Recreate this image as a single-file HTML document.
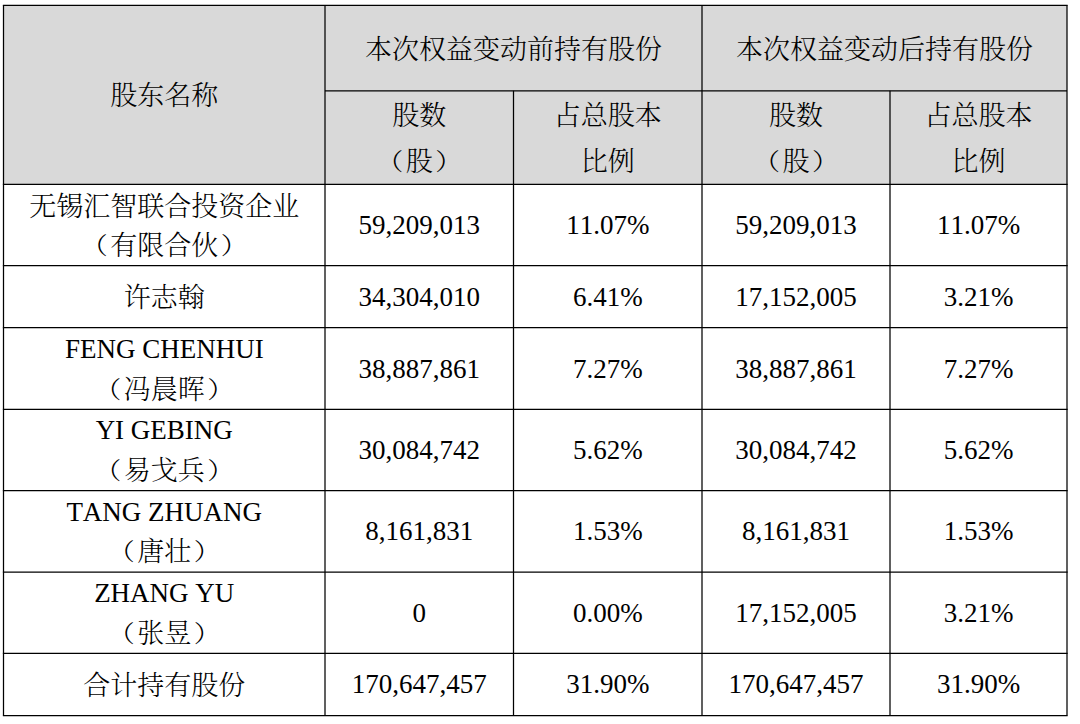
<!DOCTYPE html>
<html lang="zh-CN"><head><meta charset="utf-8"><title>股东持股变动表</title>
<style>
html,body{margin:0;padding:0;background:#fff;}
body{width:1080px;height:724px;position:relative;overflow:hidden;}
svg{position:absolute;left:0;top:0;}
.t{position:absolute;height:40px;line-height:40px;text-align:center;white-space:nowrap;
font-family:"Liberation Serif","Noto Serif CJK SC",serif;text-spacing-trim:space-all;font-kerning:none;font-size:27px;color:#000;}
.c{font-weight:300;}
.lp{position:relative;left:-2.5px;display:inline-block;transform:scaleY(0.88);}
.rp{position:relative;left:2.5px;display:inline-block;transform:scaleY(0.88);}
</style></head><body>
<svg width="1080" height="724" viewBox="0 0 1080 724"><rect x="3.5" y="5.3" width="1063.5" height="179.1" fill="#d9d9d9"/><g stroke="#000" stroke-width="1.25"><line x1="2.875" y1="5.3" x2="1067.625" y2="5.3"/><line x1="2.875" y1="184.4" x2="1067.625" y2="184.4"/><line x1="2.875" y1="265.5" x2="1067.625" y2="265.5"/><line x1="2.875" y1="327.7" x2="1067.625" y2="327.7"/><line x1="2.875" y1="409.4" x2="1067.625" y2="409.4"/><line x1="2.875" y1="490.5" x2="1067.625" y2="490.5"/><line x1="2.875" y1="572.0" x2="1067.625" y2="572.0"/><line x1="2.875" y1="653.4" x2="1067.625" y2="653.4"/><line x1="2.875" y1="715.5" x2="1067.625" y2="715.5"/><line x1="325" y1="90.8" x2="1067" y2="90.8"/><line x1="3.5" y1="5.3" x2="3.5" y2="715.5"/><line x1="325" y1="5.3" x2="325" y2="715.5"/><line x1="513.5" y1="90.8" x2="513.5" y2="715.5"/><line x1="702" y1="5.3" x2="702" y2="715.5"/><line x1="890" y1="90.8" x2="890" y2="715.5"/><line x1="1067" y1="5.3" x2="1067" y2="715.5"/></g></svg>
<div class="t c" style="left:3.50px;width:321.50px;top:75.70px">股东名称</div>
<div class="t c" style="left:325.00px;width:377.00px;top:30.00px">本次权益变动前持有股份</div>
<div class="t c" style="left:702.00px;width:365.00px;top:30.00px">本次权益变动后持有股份</div>
<div class="t c" style="left:325.00px;width:188.50px;top:96.20px">股数</div>
<div class="t c" style="left:325.00px;width:188.50px;top:142.20px"><span class="lp">（</span>股<span class="rp">）</span></div>
<div class="t c" style="left:702.00px;width:188.00px;top:96.20px">股数</div>
<div class="t c" style="left:702.00px;width:188.00px;top:142.20px"><span class="lp">（</span>股<span class="rp">）</span></div>
<div class="t c" style="left:513.50px;width:188.50px;top:96.20px">占总股本</div>
<div class="t c" style="left:513.50px;width:188.50px;top:142.20px">比例</div>
<div class="t c" style="left:890.00px;width:177.00px;top:96.20px">占总股本</div>
<div class="t c" style="left:890.00px;width:177.00px;top:142.20px">比例</div>
<div class="t c" style="left:3.50px;width:321.50px;top:187.15px">无锡汇智联合投资企业</div>
<div class="t c" style="left:3.50px;width:321.50px;top:226.15px"><span class="lp">（</span>有限合伙<span class="rp">）</span></div>
<div class="t" style="left:325.00px;width:188.50px;top:204.95px">59,209,013</div>
<div class="t" style="left:513.50px;width:188.50px;top:204.95px">11.07%</div>
<div class="t" style="left:702.00px;width:188.00px;top:204.95px">59,209,013</div>
<div class="t" style="left:890.00px;width:177.00px;top:204.95px">11.07%</div>
<div class="t c" style="left:3.50px;width:321.50px;top:278.30px">许志翰</div>
<div class="t" style="left:325.00px;width:188.50px;top:276.60px">34,304,010</div>
<div class="t" style="left:513.50px;width:188.50px;top:276.60px">6.41%</div>
<div class="t" style="left:702.00px;width:188.00px;top:276.60px">17,152,005</div>
<div class="t" style="left:890.00px;width:177.00px;top:276.60px">3.21%</div>
<div class="t" style="left:3.50px;width:321.50px;top:329.05px">FENG CHENHUI</div>
<div class="t c" style="left:3.50px;width:321.50px;top:369.75px"><span class="lp">（</span>冯晨晖<span class="rp">）</span></div>
<div class="t" style="left:325.00px;width:188.50px;top:348.55px">38,887,861</div>
<div class="t" style="left:513.50px;width:188.50px;top:348.55px">7.27%</div>
<div class="t" style="left:702.00px;width:188.00px;top:348.55px">38,887,861</div>
<div class="t" style="left:890.00px;width:177.00px;top:348.55px">7.27%</div>
<div class="t" style="left:3.50px;width:321.50px;top:410.45px">YI GEBING</div>
<div class="t c" style="left:3.50px;width:321.50px;top:451.15px"><span class="lp">（</span>易戈兵<span class="rp">）</span></div>
<div class="t" style="left:325.00px;width:188.50px;top:429.95px">30,084,742</div>
<div class="t" style="left:513.50px;width:188.50px;top:429.95px">5.62%</div>
<div class="t" style="left:702.00px;width:188.00px;top:429.95px">30,084,742</div>
<div class="t" style="left:890.00px;width:177.00px;top:429.95px">5.62%</div>
<div class="t" style="left:3.50px;width:321.50px;top:491.75px">TANG ZHUANG</div>
<div class="t c" style="left:3.50px;width:321.50px;top:532.45px"><span class="lp">（</span>唐壮<span class="rp">）</span></div>
<div class="t" style="left:325.00px;width:188.50px;top:511.25px">8,161,831</div>
<div class="t" style="left:513.50px;width:188.50px;top:511.25px">1.53%</div>
<div class="t" style="left:702.00px;width:188.00px;top:511.25px">8,161,831</div>
<div class="t" style="left:890.00px;width:177.00px;top:511.25px">1.53%</div>
<div class="t" style="left:3.50px;width:321.50px;top:573.20px">ZHANG YU</div>
<div class="t c" style="left:3.50px;width:321.50px;top:613.90px"><span class="lp">（</span>张昱<span class="rp">）</span></div>
<div class="t" style="left:325.00px;width:188.50px;top:592.70px">0</div>
<div class="t" style="left:513.50px;width:188.50px;top:592.70px">0.00%</div>
<div class="t" style="left:702.00px;width:188.00px;top:592.70px">17,152,005</div>
<div class="t" style="left:890.00px;width:177.00px;top:592.70px">3.21%</div>
<div class="t c" style="left:3.50px;width:321.50px;top:666.15px">合计持有股份</div>
<div class="t" style="left:325.00px;width:188.50px;top:664.45px">170,647,457</div>
<div class="t" style="left:513.50px;width:188.50px;top:664.45px">31.90%</div>
<div class="t" style="left:702.00px;width:188.00px;top:664.45px">170,647,457</div>
<div class="t" style="left:890.00px;width:177.00px;top:664.45px">31.90%</div>
</body></html>
